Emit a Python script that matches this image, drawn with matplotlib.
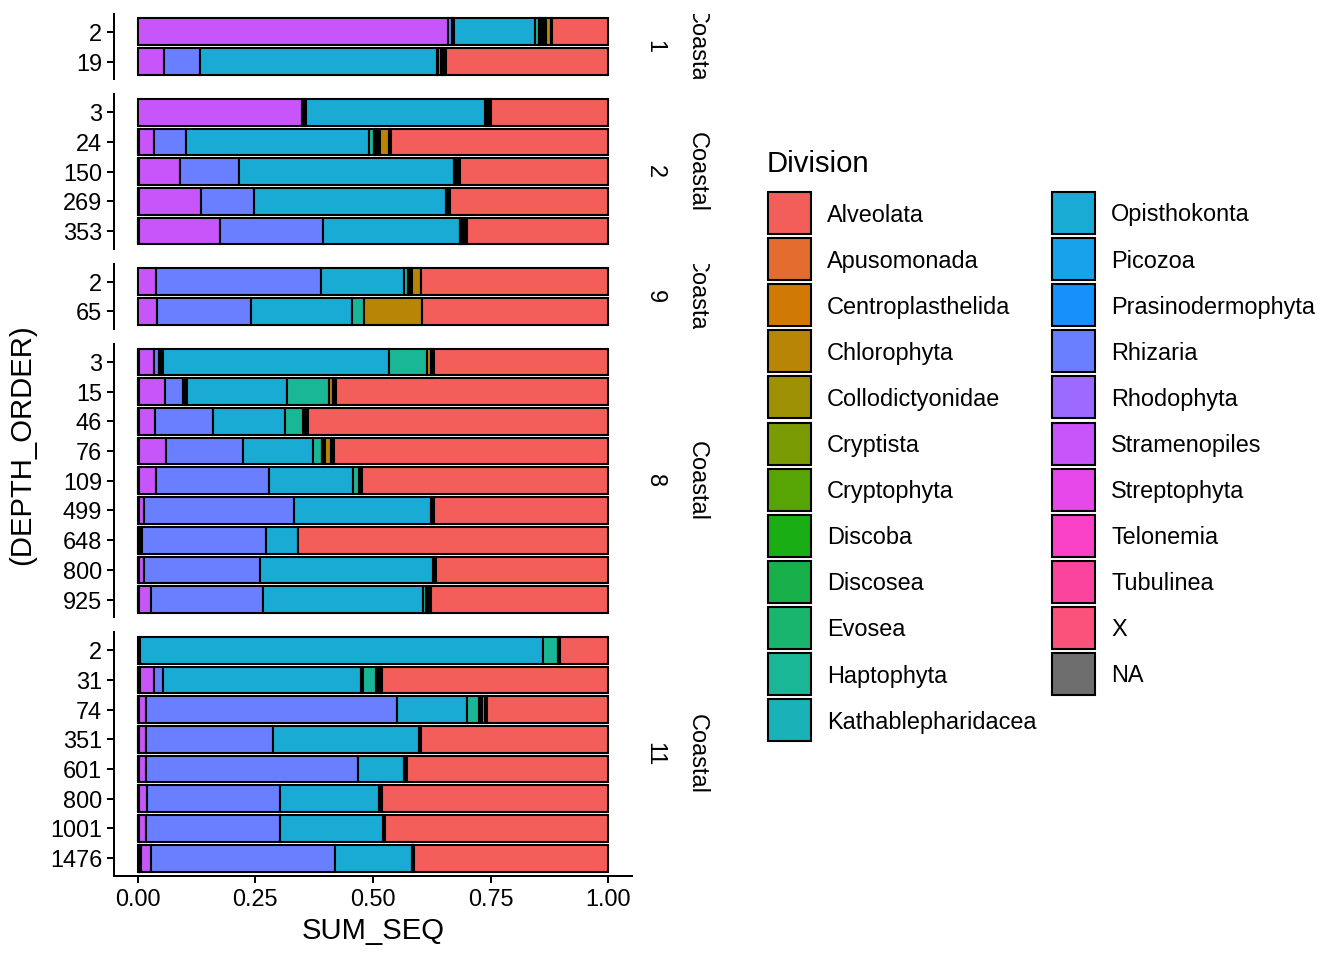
import matplotlib
matplotlib.use('Agg')
import matplotlib.pyplot as plt
from matplotlib.patches import Rectangle

plt.rcParams['font.family'] = ['Liberation Sans', 'DejaVu Sans']

# ---------------- data ----------------
divisions = ["Alveolata", "Apusomonada", "Centroplasthelida", "Chlorophyta",
             "Collodictyonidae", "Cryptista", "Cryptophyta", "Discoba", "Discosea",
             "Evosea", "Haptophyta", "Kathablepharidacea", "Opisthokonta", "Picozoa",
             "Prasinodermophyta", "Rhizaria", "Rhodophyta", "Stramenopiles",
             "Streptophyta", "Telonemia", "Tubulinea", "X", "NA"]
div_colors = ["#F35E5A", "#E36C2E", "#D07A05", "#B88507", "#9E9005", "#7B9B05",
              "#57A405", "#19AF14", "#18B04A", "#19B56E", "#1AB796", "#19B2B9",
              "#19ABD4", "#17A2EB", "#1790FB", "#6A7FFF", "#9D6AFF", "#C855FA",
              "#E648E9", "#F942C8", "#FB449E", "#FA527B", "#6E6E6E"]

stations = ["1", "2", "9", "8", "11"]
region = "Coastal"
depths = [["2", "19"],
          ["3", "24", "150", "269", "353"],
          ["2", "65"],
          ["3", "15", "46", "76", "109", "499", "648", "800", "925"],
          ["2", "31", "74", "351", "601", "800", "1001", "1476"]]

# relative abundance per division, one value per sample (facet order, then depth order)
x_div =         [0, 0, 0, .002, .002, .002, .002, 0, 0, .002, .002, .002, .002, .002, .003, .002, .002, .002, .003, .002, .002, .002, .002, .002, .002, .003]
tubulinea =     [0, 0, 0, .002, .002, .002, .002, 0, 0, .002, .002, .002, .002, .002, 0, .002, .002, .002, .003, .003, .002, .002, .002, .002, .002, .003]
telonemia =     [0, 0, 0, 0, 0, 0, 0, 0, 0, 0, 0, 0, 0, 0, 0, 0, 0, 0, 0, 0, 0, 0, 0, 0, 0, .002]
streptophyta =  [0, 0, 0, 0, 0, 0, 0, 0, 0, 0, 0, 0, 0, 0, 0, .003, 0, 0, 0, 0, 0, 0, 0, 0, 0, 0]
stramenopiles = [.659, .056, .350, .031, .086, .131, .172, .039, .042, .030, .055, .034, .056, .036, .011, .003, .010, .025, 0, .029, .013, .014, .013, .017, .013, .021]
rhodophyta =    [0, 0, .002, 0, 0, 0, 0, 0, 0, 0, 0, 0, 0, 0, 0, 0, 0, 0, 0, 0, 0, 0, 0, 0, 0, 0]
rhizaria =      [.008, .077, .003, .068, .126, .112, .217, .351, .199, .011, .037, .123, .164, .239, .319, .263, .246, .237, 0, .019, .533, .269, .451, .281, .285, .390]
prasinodermophyta = [.002, 0, 0, 0, 0, 0, 0, 0, 0, .004, .005, 0, 0, 0, 0, 0, 0, 0, 0, 0, 0, 0, 0, 0, 0, 0]
picozoa =       [.002, 0, .003, 0, 0, 0, 0, 0, 0, .004, .005, 0, 0, 0, 0, 0, 0, 0, 0, 0, 0, 0, 0, 0, 0, 0]
opisthokonta =  [.173, .503, .379, .388, .457, .407, .291, .176, .215, .481, .211, .152, .148, .178, .290, .068, .367, .341, .854, .421, .149, .311, .098, .211, .220, .164]
kathablepharidacea = [0, .003, 0, 0, .003, 0, .003, 0, 0, 0, 0, 0, 0, 0, 0, 0, 0, 0, 0, .004, 0, 0, 0, 0, 0, 0]
haptophyta =    [.009, .006, .005, .011, 0, 0, 0, .008, .024, .081, .090, .038, .020, .014, 0, 0, 0, .006, .032, .028, .027, 0, 0, 0, 0, 0]
evosea =        [.002, 0, 0, 0, 0, 0, 0, 0, 0, 0, 0, 0, 0, 0, 0, 0, 0, 0, 0, 0, 0, 0, 0, 0, 0, 0]
discosea =      [.002, 0, 0, .003, 0, 0, 0, 0, 0, 0, 0, 0, 0, 0, 0, 0, 0, 0, 0, 0, 0, 0, 0, 0, 0, 0]
discoba =       [0, .003, .003, .003, .003, .003, .003, .003, 0, 0, 0, .003, .003, .003, .003, 0, .003, .003, .003, .003, .003, .002, .003, .003, .003, .003]
cryptophyta =   [.005, .003, .003, .003, .003, 0, .003, .003, 0, 0, 0, .003, .003, .003, .003, 0, .003, .003, .003, .003, .002, .002, .004, .003, 0, .002]
cryptista =     [.003, .003, 0, 0, 0, 0, .003, 0, 0, 0, 0, 0, 0, 0, 0, 0, 0, .004, 0, .003, 0, 0, 0, 0, 0, 0]
collodictyonidae = [.003, .002, .003, .003, .002, 0, .003, .002, 0, 0, 0, .004, 0, 0, 0, 0, 0, 0, 0, .002, 0, 0, 0, 0, 0, 0]
chlorophyta =   [.011, 0, 0, .020, 0, .004, 0, .019, .124, .008, .008, 0, .012, 0, 0, 0, 0, 0, 0, .003, .007, 0, 0, 0, 0, 0]
centroplasthelida = [.002, 0, 0, .002, 0, .002, 0, 0, 0, .003, .003, 0, .003, 0, 0, 0, 0, 0, 0, 0, .003, 0, 0, 0, 0, 0]
apusomonada =   [0, 0, 0, .002, 0, 0, 0, 0, 0, .003, .003, 0, .004, 0, 0, 0, 0, 0, 0, 0, .002, 0, 0, 0, 0, 0]
alveolata =     [.119, .344, .249, .462, .316, .337, .301, .399, .396, .371, .579, .639, .583, .523, .371, .659, .367, .377, .102, .480, .257, .398, .427, .481, .475, .412]

values = {"X": x_div, "Tubulinea": tubulinea, "Telonemia": telonemia,
          "Streptophyta": streptophyta, "Stramenopiles": stramenopiles,
          "Rhodophyta": rhodophyta, "Rhizaria": rhizaria,
          "Prasinodermophyta": prasinodermophyta, "Picozoa": picozoa,
          "Opisthokonta": opisthokonta, "Kathablepharidacea": kathablepharidacea,
          "Haptophyta": haptophyta, "Evosea": evosea, "Discosea": discosea,
          "Discoba": discoba, "Cryptophyta": cryptophyta, "Cryptista": cryptista,
          "Collodictyonidae": collodictyonidae, "Chlorophyta": chlorophyta,
          "Centroplasthelida": centroplasthelida, "Apusomonada": apusomonada,
          "Alveolata": alveolata}

x_ticks = [0, 0.25, 0.5, 0.75, 1.0]
x_ticklabels = ["0.00", "0.25", "0.50", "0.75", "1.00"]

# ---------------- layout ----------------
W, H = 1344, 960
fig = plt.figure(figsize=(W / 100, H / 100), dpi=100)
color_of = dict(zip(divisions, div_colors))
stack_order = [d for d in divisions[::-1] if d != "NA"]  # X nearest 0, Alveolata last

TICK = 16.9
TITLE = 21.1
LW = 1.44

pl, pr = 114, 632
top, bottom, gap = 14, 876, 15
units = [len(d) + 0.2 for d in depths]
u = (bottom - top - gap * (len(depths) - 1)) / sum(units)

y0 = top
sample = 0
for fi, (st, dlist) in enumerate(zip(stations, depths)):
    h = units[fi] * u
    ax = fig.add_axes([pl / W, 1 - (y0 + h) / H, (pr - pl) / W, h / H])
    n = len(dlist)
    for j in range(n):
        left = 0.0
        for d in stack_order:
            v = values[d][sample + j]
            if v <= 0:
                continue
            ax.barh(j, v, left=left, height=0.9, color=color_of[d],
                    edgecolor="black", linewidth=1.5)
            left += v
    ax.set_xlim(-0.05, 1.05)
    ax.set_ylim(n - 1 + 0.6, -0.6)
    ax.set_yticks(range(n))
    ax.set_yticklabels(dlist)
    for s in ["top", "right"]:
        ax.spines[s].set_visible(False)
    ax.spines["left"].set_linewidth(LW)
    ax.spines["bottom"].set_linewidth(LW)
    ax.tick_params(axis="both", labelsize=TICK, length=5, width=LW, pad=3.5,
                   colors="black")
    if fi == len(depths) - 1:
        ax.set_xticks(x_ticks)
        ax.set_xticklabels(x_ticklabels)
    else:
        ax.spines["bottom"].set_visible(False)
        ax.set_xticks([])
    # facet strips (no background), text clipped to the panel height
    for cx, label in [(655, st), (697, region)]:
        sax = fig.add_axes([(cx - 20) / W, 1 - (y0 + h) / H, 40 / W, h / H])
        sax.axis("off")
        sax.text(0.5, 0.5, label, rotation=270, ha="center", va="center",
                 fontsize=TICK, transform=sax.transAxes, clip_on=True)
    y0 += h + gap
    sample += n

fig.text(373 / W, 1 - 931 / H, "SUM_SEQ", ha="center", va="center", fontsize=TITLE)
fig.text(22 / W, 1 - 445 / H, "(DEPTH_ORDER)", ha="center", va="center",
         rotation=90, fontsize=TITLE)

# ---------------- legend ----------------
lax = fig.add_axes([0, 0, 1, 1])
lax.set_xlim(0, W)
lax.set_ylim(H, 0)
lax.axis("off")
lax.text(767, 164, "Division", ha="left", va="center", fontsize=TITLE)
pitch = 46.1
for i, (d, c) in enumerate(zip(divisions, div_colors)):
    col, row = divmod(i, 12)
    kx = 768 if col == 0 else 1052
    tx = 827 if col == 0 else 1111
    ky = 192 + row * pitch
    lax.add_patch(Rectangle((kx, ky), 43, 42, facecolor=c, edgecolor="black",
                            linewidth=1.5))
    lax.text(tx, ky + 23, d, ha="left", va="center", fontsize=TICK)

fig.savefig("out.png", dpi=100)
